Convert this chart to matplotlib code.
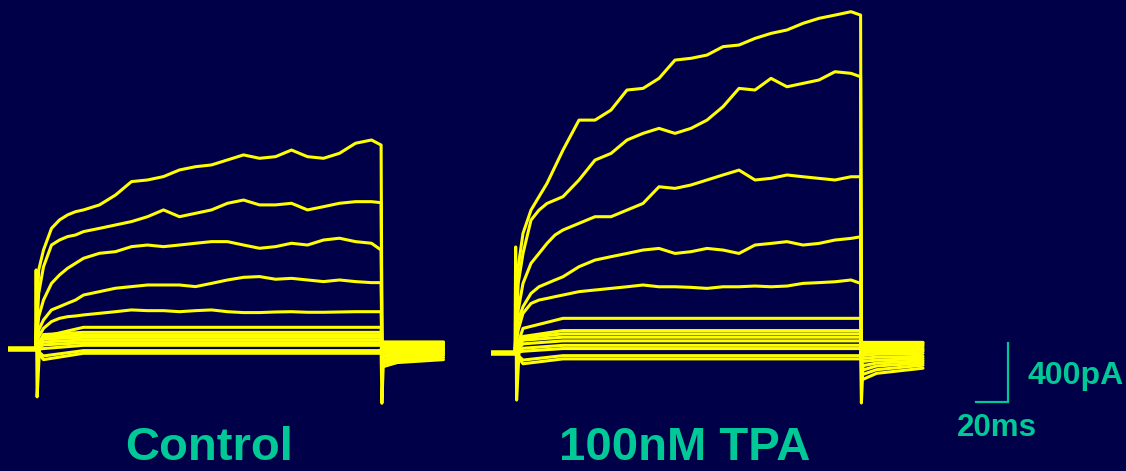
import matplotlib
matplotlib.use("Agg")
import matplotlib.pyplot as plt

# ---------------------------------------------------------------------------
# Values: time in ms from step onset, current in pA
# ---------------------------------------------------------------------------

step_t = [0, 2, 5, 10, 15, 20, 25, 30, 40, 50, 60, 70, 80, 90, 100,
          110, 120, 130, 140, 150, 160, 170, 180, 190, 200, 210, 216]

# Control, five largest steps
ctrl_trace1 = [0, 538, 673, 820, 877, 911, 933, 945, 979, 1046, 1137, 1148, 1171, 1216,
               1238, 1250, 1284, 1318, 1295, 1306, 1351, 1306, 1295, 1329, 1397, 1419, 1385]
ctrl_trace2 = [0, 380, 560, 707, 741, 764, 775, 798, 820, 843, 866, 899, 945, 899,
               922, 945, 990, 1012, 979, 979, 990, 945, 967, 990, 1001, 1001, 994]
ctrl_trace3 = [0, 221, 334, 447, 504, 549, 583, 617, 651, 662, 696, 707, 696, 707,
               719, 730, 730, 707, 685, 696, 719, 707, 741, 753, 730, 719, 673]
ctrl_trace4 = [0, 131, 199, 267, 289, 312, 334, 368, 391, 414, 425, 436, 436, 436,
               425, 447, 470, 488, 493, 475, 481, 470, 459, 470, 459, 452, 452]
ctrl_trace5 = [0, 86, 142, 188, 210, 221, 226, 233, 244, 255, 267, 262, 262, 255,
               262, 267, 255, 249, 249, 253, 255, 251, 251, 253, 255, 255, 255]

# Control, smaller steps: value 5 ms into the step and steady level
ctrl_small_5ms = [86, 100, 85, 70, 50, 30, 5, -45, -70]
ctrl_small_ss = [149, 115, 97, 81, 63, 45, 27, -9, -27]

# Control tails after the step (start, 10 ms, end)
ctrl_tail_start = [-120, -100, -85, -70, -50, -40, -20, -5, 10, 20, 30, 40, 45, 50]
ctrl_tail_mid = [-90, -75, -60, -45, -35, -20, -10, 0, 10, 20, 30, 40, 45, 50]
ctrl_tail_end = [-70, -55, -40, -30, -20, -10, 0, 5, 15, 25, 30, 40, 45, 50]

# 100nM TPA, five largest steps
tpa_trace1 = [0, 583, 809, 967, 1058, 1148, 1261, 1374, 1577, 1577, 1645, 1781, 1792, 1860,
              1984, 1996, 2018, 2075, 2086, 2131, 2165, 2188, 2233, 2267, 2289, 2312, 2289]
tpa_trace2 = [0, 470, 673, 899, 967, 1012, 1035, 1058, 1171, 1306, 1351, 1442, 1487, 1521,
              1487, 1521, 1577, 1668, 1792, 1781, 1860, 1803, 1826, 1849, 1905, 1894, 1871]
tpa_trace3 = [0, 289, 470, 606, 673, 741, 798, 832, 877, 922, 922, 967, 1012, 1125,
              1114, 1137, 1171, 1205, 1238, 1171, 1182, 1205, 1193, 1182, 1171, 1193, 1193]
tpa_trace4 = [0, 221, 312, 402, 447, 470, 493, 515, 583, 628, 651, 673, 696, 707,
              673, 685, 707, 696, 673, 730, 741, 753, 730, 741, 764, 775, 786]
tpa_trace5 = [0, 154, 267, 334, 357, 368, 380, 391, 414, 425, 436, 447, 459, 447,
              447, 443, 436, 447, 447, 452, 447, 452, 470, 475, 481, 493, 470]

tpa_small_5ms = [165, 110, 100, 85, 60, 30, 10, -50, -75]
tpa_small_ss = [233, 150, 128, 105, 80, 50, 28, -20, -42]

tpa_tail_start = [-185, -150, -120, -90, -60, -40, -20, 0, 15, 30, 45, 55, 65, 70]
tpa_tail_mid = [-140, -115, -90, -70, -50, -30, -10, 5, 20, 30, 45, 55, 65, 70]
tpa_tail_end = [-105, -85, -70, -55, -40, -25, -5, 10, 20, 30, 45, 55, 65, 70]

# capacitive transients at step on / off
onset_spike_t = [0, 0.4, 1.0, 2.5]
ctrl_onset_spike = [0, 538, -323, 0]
tpa_onset_spike = [0, 717, -321, 0]
offset_spike_t = [216, 216.5, 217.5]
ctrl_offset_spike = [0, -366, -60]
tpa_offset_spike = [0, -341, -80]

STEP_END = 216
TAIL_MID = 10

# ---------------------------------------------------------------------------
# Layout
# ---------------------------------------------------------------------------

BG = "#000048"
TRACE = "#FFFF00"
LABEL = "#00C896"
MS_PER_PX = 0.625
PA_PER_PX = 6.78
W, H = 1126, 471

plt.rcParams["font.family"] = ["Liberation Sans", "DejaVu Sans"]

fig = plt.figure(figsize=(W / 100, H / 100), dpi=100)
fig.patch.set_facecolor(BG)
ax = fig.add_axes([0, 0, 1, 1])
ax.set_facecolor(BG)
ax.set_xlim(0, W * MS_PER_PX)
ax.set_ylim(0, H * PA_PER_PX)
ax.axis("off")


def draw_panel(x0, y0, pre, post, big, small_5ms, small_ss,
               tail_start, tail_mid, tail_end, on_spike, off_spike):
    tail_t = [STEP_END + 0.6, STEP_END + TAIL_MID, STEP_END + post]
    kw = dict(color=TRACE, lw=2.2, solid_joinstyle="round", solid_capstyle="round")

    # holding level before the step: all sweeps overlap here, so it reads thicker
    ax.plot([x0 - pre, x0], [y0, y0], color=TRACE, lw=4.0, solid_capstyle="butt")

    for i, trace in enumerate(big):
        ts = step_t + tail_t
        vs = trace + [tail_start[i], tail_mid[i], tail_end[i]]
        ax.plot([x0 + t for t in ts], [y0 + v for v in vs], **kw)

    for j, (v5, ss) in enumerate(zip(small_5ms, small_ss)):
        k = len(big) + j
        ts = [0, 5, 30, STEP_END] + tail_t
        vs = [0, v5, ss, ss, tail_start[k], tail_mid[k], tail_end[k]]
        ax.plot([x0 + t for t in ts], [y0 + v for v in vs], **kw)

    ax.plot([x0 + t for t in onset_spike_t], [y0 + v for v in on_spike], **kw)
    ax.plot([x0 + t for t in offset_spike_t], [y0 + v for v in off_spike], **kw)


draw_panel(35.5 * MS_PER_PX, (H - 349.3) * PA_PER_PX, 17, 39,
           [ctrl_trace1, ctrl_trace2, ctrl_trace3, ctrl_trace4, ctrl_trace5],
           ctrl_small_5ms, ctrl_small_ss,
           ctrl_tail_start, ctrl_tail_mid, ctrl_tail_end,
           ctrl_onset_spike, ctrl_offset_spike)

draw_panel(515 * MS_PER_PX, (H - 352.7) * PA_PER_PX, 15, 39,
           [tpa_trace1, tpa_trace2, tpa_trace3, tpa_trace4, tpa_trace5],
           tpa_small_5ms, tpa_small_ss,
           tpa_tail_start, tpa_tail_mid, tpa_tail_end,
           tpa_onset_spike, tpa_offset_spike)

# scale bar: 20 ms x 400 pA
bar_x = 1008 * MS_PER_PX
bar_y = (H - 401.7) * PA_PER_PX
ax.plot([bar_x - 20, bar_x, bar_x], [bar_y, bar_y, bar_y + 400],
        color=LABEL, lw=1.6, solid_joinstyle="miter")

fig.text(1028 / W, (H - 384) / H, "400pA", color=LABEL, fontsize=23,
         fontweight="bold", ha="left", va="baseline")
fig.text(957 / W, (H - 436) / H, "20ms", color=LABEL, fontsize=22.5,
         fontweight="bold", ha="left", va="baseline")
fig.text(209.5 / W, (H - 470.5) / H, "Control", color=LABEL, fontsize=34,
         fontweight="bold", ha="center", va="bottom")
fig.text(685 / W, (H - 470.5) / H, "100nM TPA", color=LABEL, fontsize=34,
         fontweight="bold", ha="center", va="bottom")

fig.savefig("out.png", dpi=100, facecolor=BG)
plt.close(fig)
